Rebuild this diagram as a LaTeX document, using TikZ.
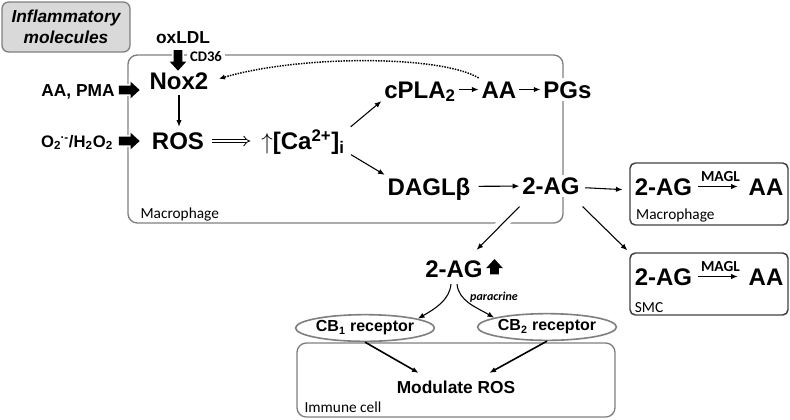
\documentclass[tikz,border=0pt]{standalone}
\usepackage{fontspec}
\setmainfont{Liberation Sans}
\newfontfamily\lblfont{Carlito}
\usepackage{tikz}
\usetikzlibrary{positioning,arrows.meta,shapes.geometric,shapes.arrows}

\definecolor{boxgray}{HTML}{7F7F7F}
\definecolor{tagfill}{HTML}{D9D9D9}

\begin{document}
\begin{tikzpicture}[
		x=0.75pt, y=-0.75pt
		,every node/.append style={inner sep=2pt}
		,big/.style={font=\bfseries\fontsize{18}{20}\selectfont, text height=13pt, text depth=0pt}
		,mid/.style={font=\bfseries\fontsize{13}{15}\selectfont, text height=9.5pt, text depth=0pt}
		,lbl/.style={font=\lblfont\fontsize{11.5}{13}\selectfont, anchor=base west, inner sep=0pt}
		,enz/.style={font=\lblfont\bfseries\fontsize{11.5}{13}\selectfont, inner sep=0pt}
		,cell/.style={draw=boxgray, line width=1pt, rounded corners=7pt, inner sep=0pt}
		,hostbox/.style={draw=black!75, line width=1.1pt, rounded corners=4pt, inner sep=0pt, minimum width=118.5pt, minimum height=46.5pt}
		,rcpt/.style={ellipse, draw=boxgray, line width=1.2pt, fill=white, inner sep=0pt, minimum width=82pt, minimum height=20pt, font=\bfseries\fontsize{12}{14}\selectfont}
		,arr/.style={-{Latex[length=5pt,width=4pt]}, line width=0.8pt}
		,fat/.style={single arrow, fill=black, inner sep=3pt, minimum height=15.5pt, single arrow head extend=3pt, single arrow tip angle=85, preaction={draw=white, line width=2.5pt}}
	]
	\useasboundingbox (0,0) rectangle (790,419);

	\node[cell, minimum width=326.25pt, minimum height=126pt] (mac) at (345.5,139) {};
	\node[lbl] (maclbl) at ([xshift=9.75pt, yshift=3.75pt]mac.south west) {Macrophage};

	\node[cell, fill=tagfill, rounded corners=5pt, minimum width=96pt, minimum height=37.5pt, align=center, font=\bfseries\itshape\fontsize{13}{15.75}\selectfont] (infl) at (66,27) {Inflammatory\\molecules};

	\node[mid] (oxldl) at (183,37) {oxLDL};
	\node[fat, shape border rotate=270] (oxin) at (178,58) {};
	\node[font=\lblfont\bfseries\fontsize{11}{13}\selectfont, fill=white] (cd36) at (206,56.5) {CD36};

	\node[big] (nox) at (179,81) {Nox2};
	\node[big] (ros) at (178,141) {ROS};
	\node[mid] (aapma) at (78,90.5) {AA, PMA};
	\node[fat] (aain) at (127,90) {};
	\node[mid, font=\bfseries\fontsize{12.5}{15}\selectfont] (oxy) at (77,141) {O\textsubscript{2}\kern-0.5pt\textsuperscript{·-}/H\textsubscript{2}O\textsubscript{2}};
	\node[fat] (oxyin) at (127,141) {};

	\node[big] (ca) at (303,141) {$\uparrow$[Ca\textsuperscript{2+}]\textsubscript{i}};
	\node[big] (cpla) at (420,89.5) {cPLA\textsubscript{2}};
	\node[big, right=15pt of cpla] (aa) {AA};
	\node[big, fill=white, right=16pt of aa] (pgs) {PGs};
	\node[big] (dagl) at (429,186.5) {DAGLβ};
	\node[big, fill=white] (ag) at (551,186) {2-AG};

	\node[hostbox] (macr) at (709,194) {};
	\node[big] (agm) at (663.5,186.5) {2-AG};
	\node[big, right=38pt of agm] (aam) {AA};
	\node[lbl] (macrlbl) at ([xshift=5pt, yshift=4.5pt]macr.south west) {Macrophage};

	\node[hostbox] (smc) at (709,284) {};
	\node[big] (ags) at (663.5,276.5) {2-AG};
	\node[big, right=38pt of ags] (aas) {AA};
	\node[lbl] (smclbl) at ([xshift=4pt, yshift=2.5pt]smc.south west) {SMC};

	\node[big] (agup) at (454,268.5) {2-AG};
	\node[fat, shape border rotate=90, minimum height=11.5pt] (upmark) at (494.5,269) {};
	\node[font=\lblfont\bfseries\itshape\fontsize{9}{11}\selectfont] (para) at (494,297) {paracrine};

	\node[cell, minimum width=238.5pt, minimum height=55.5pt] (imm) at (456,380) {};
	\node[lbl] (immlbl) at ([xshift=6pt, yshift=3.75pt]imm.south west) {Immune cell};
	\node[rcpt] (cb1) at (365,328) {CB\textsubscript{1} receptor};
	\node[rcpt] (cb2) at (547,327) {CB\textsubscript{2} receptor};
	\node[mid] (mod) at (456,387.5) {Modulate ROS};

	\draw[arr, shorten <=2pt, shorten >=2pt] (nox.south) -- (nox.south |- ros.north);
	\draw[line width=0.6pt, double distance=2.2pt, -Implies, shorten <=4pt, shorten >=6pt] (ros) -- (ca);
	\draw[arr, shorten <=3pt] (ca.north east) -- (cpla.south west);
	\draw[arr, shorten <=3pt] (ca.south east) -- (dagl.north west);
	\draw[arr] (cpla) -- (aa);
	\draw[arr] (aa) -- (pgs);
	\draw[-{Latex[length=4.5pt,width=4pt]}, line width=1.1pt, dash pattern=on 1.1pt off 0.9pt, shorten >=6pt] (aa.north west) .. controls (440,55) and (300,55) .. (nox.east);
	\draw[arr, shorten <=4pt] (dagl) -- (ag);
	\draw[arr, shorten <=2pt, shorten >=5pt] (ag) -- (macr);
	\draw[arr, preaction={draw=white, line width=8pt, -}] ([yshift=-6.75pt]ag.south west) -- ([xshift=-6.75pt, yshift=5.25pt]agup.north east);
	\draw[arr, shorten >=2pt] ([yshift=-6.75pt]ag.south east) -- (smc.north west);

	\draw[arr, shorten <=2.5pt, shorten >=6pt] (agm) -- (aam) node[enz, midway, above=3.5pt] (magl1) {MAGL};
	\draw[arr, shorten <=2.5pt, shorten >=6pt] (ags) -- (aas) node[enz, midway, above=3.5pt] (magl2) {MAGL};

	\draw[arr, shorten <=3pt] ([xshift=-2pt]agup.south) to[out=-95, in=30] (cb1.10);
	\draw[arr, shorten <=3pt] ([xshift=2pt]agup.south) to[out=-85, in=150] (cb2.170);
	\draw[arr, line width=1.2pt] (cb1.south) -- ([xshift=-28pt, yshift=4pt]mod.north);
	\draw[arr, line width=1.2pt] (cb2.south) -- ([xshift=25pt, yshift=4pt]mod.north);
\end{tikzpicture}
\end{document}
